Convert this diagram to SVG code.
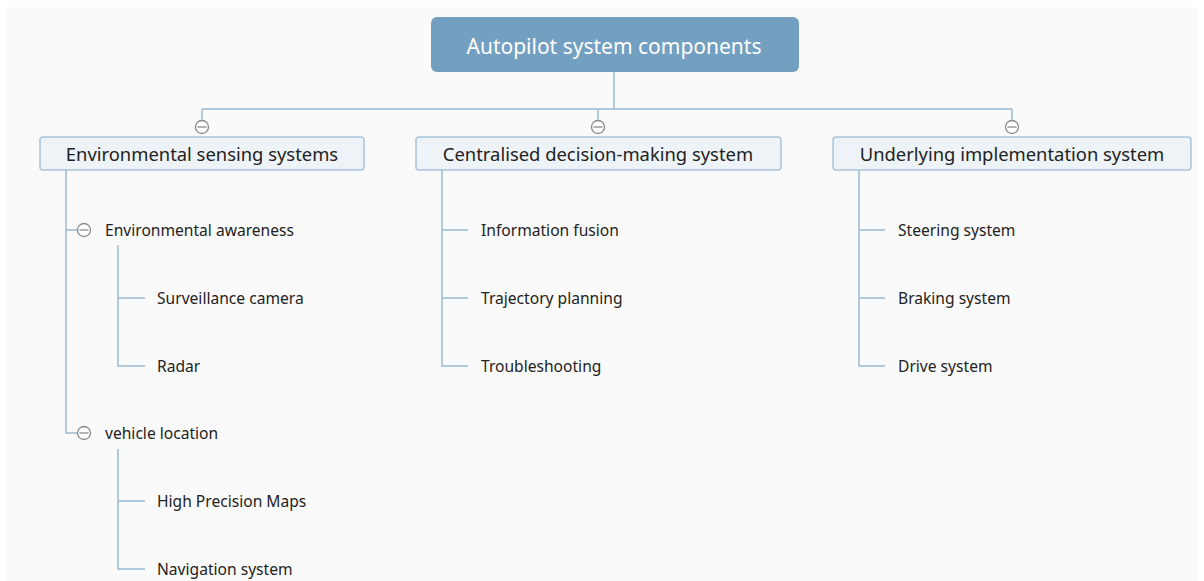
<svg xmlns="http://www.w3.org/2000/svg" width="1204" height="581" viewBox="0 0 1204 581">
  <style>
    .canvas { fill: #fafafa; }
    .root-box { fill: #739fc1; }
    .root-text { font-family: "Noto Sans", "Open Sans", sans-serif; font-size: 21px; fill: #ffffff; }
    .main-box { fill: #eef3f7; stroke: #a9c4da; stroke-width: 1.5; }
    .main-text { font-family: "Noto Sans", "Open Sans", sans-serif; font-size: 18.4px; fill: #222222; }
    .leaf-text { font-family: "Noto Sans", "Open Sans", sans-serif; font-size: 15.6px; fill: #222222; }
    .link { fill: none; stroke: #9bbad4; stroke-width: 1.5; }
    .toggle circle { fill: #ffffff; stroke: #8a8a8a; stroke-width: 1.3; }
    .toggle line { stroke: #8a8a8a; stroke-width: 1.3; }
  </style>
  <defs>
    <g id="toggle" class="toggle">
      <circle cx="0" cy="0" r="6.5"/>
      <line x1="-4.5" y1="0" x2="4.5" y2="0"/>
    </g>
  </defs>

  <rect class="canvas" x="7" y="7" width="1190" height="574"/>

  <!-- connectors -->
  <g id="connectors">
    <path class="link" d="M614 72 V109 M202 109 H1012 M202 109 V121 M598 109 V121 M1012 109 V121"/>
    <!-- environmental sensing branch -->
    <path class="link" d="M66 170 V433 H78 M66 230 H78"/>
    <path class="link" d="M118 245 V366 H145 M118 298 H145"/>
    <path class="link" d="M118 449 V569 H145 M118 501 H145"/>
    <!-- decision-making branch -->
    <path class="link" d="M442 170 V366 H468 M442 230 H468 M442 298 H468"/>
    <!-- implementation branch -->
    <path class="link" d="M859 170 V366 H885 M859 230 H885 M859 298 H885"/>
  </g>

  <!-- root -->
  <g id="root">
    <rect class="root-box" x="431" y="17" width="368" height="55" rx="6"/>
    <text class="root-text" x="614" y="54" text-anchor="middle">Autopilot system components</text>
  </g>

  <!-- first level -->
  <g id="env-sensing">
    <rect class="main-box" x="40" y="137" width="324" height="33" rx="3"/>
    <text class="main-text" x="202" y="161" text-anchor="middle">Environmental sensing systems</text>
    <use href="#toggle" x="202" y="127"/>
  </g>
  <g id="decision-making">
    <rect class="main-box" x="416" y="137" width="365" height="33" rx="3"/>
    <text class="main-text" x="598" y="161" text-anchor="middle">Centralised decision-making system</text>
    <use href="#toggle" x="598" y="127"/>
  </g>
  <g id="implementation">
    <rect class="main-box" x="833" y="137" width="358" height="33" rx="3"/>
    <text class="main-text" x="1012" y="161" text-anchor="middle">Underlying implementation system</text>
    <use href="#toggle" x="1012" y="127"/>
  </g>

  <!-- environmental sensing children -->
  <g id="env-awareness">
    <use href="#toggle" x="84" y="230"/>
    <text class="leaf-text" x="105" y="236">Environmental awareness</text>
  </g>
  <g id="surveillance-camera">
    <text class="leaf-text" x="157" y="304">Surveillance camera</text>
  </g>
  <g id="radar">
    <text class="leaf-text" x="157" y="372">Radar</text>
  </g>
  <g id="vehicle-location">
    <use href="#toggle" x="84" y="433"/>
    <text class="leaf-text" x="105" y="439">vehicle location</text>
  </g>
  <g id="hd-maps">
    <text class="leaf-text" x="157" y="507">High Precision Maps</text>
  </g>
  <g id="navigation">
    <text class="leaf-text" x="157" y="575">Navigation system</text>
  </g>

  <!-- decision-making children -->
  <g id="info-fusion">
    <text class="leaf-text" x="481" y="236">Information fusion</text>
  </g>
  <g id="trajectory">
    <text class="leaf-text" x="481" y="304">Trajectory planning</text>
  </g>
  <g id="troubleshooting">
    <text class="leaf-text" x="481" y="372">Troubleshooting</text>
  </g>

  <!-- implementation children -->
  <g id="steering">
    <text class="leaf-text" x="898" y="236">Steering system</text>
  </g>
  <g id="braking">
    <text class="leaf-text" x="898" y="304">Braking system</text>
  </g>
  <g id="drive">
    <text class="leaf-text" x="898" y="372">Drive system</text>
  </g>
</svg>
